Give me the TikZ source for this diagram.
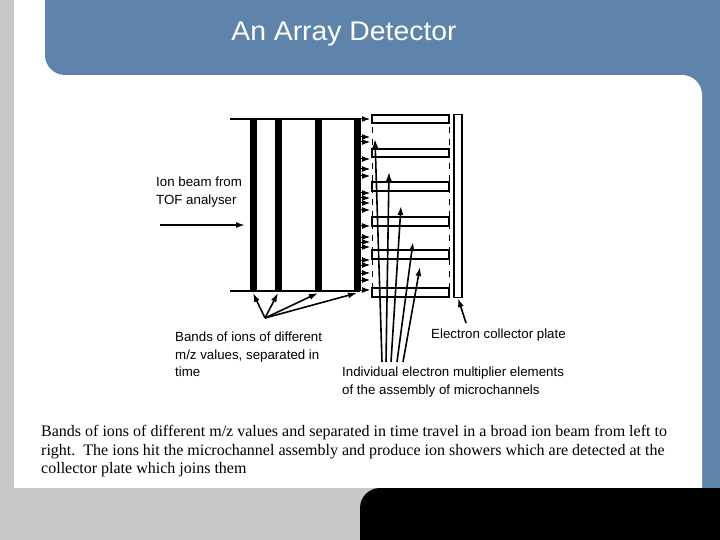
\documentclass[tikz,border=0pt]{standalone}
\usepackage{fontspec}
\setmainfont{Liberation Serif}
\setsansfont{Liberation Sans}
\usetikzlibrary{arrows.meta}
\definecolor{hdr}{HTML}{5F84AB}
\definecolor{gr}{HTML}{C8C9C7}
\begin{document}
\begin{tikzpicture}[x=1pt,y=-1pt,
  lbl/.style={font=\sffamily\fontsize{13.3}{17.5}\selectfont,align=left,anchor=north west,inner sep=0},
  arr/.style={-{Latex[length=9pt,width=6pt]},line width=1.6pt},
  sarr/.style={-{Latex[length=8pt,width=6pt]},line width=1pt},
  band/.style={fill=black},
  elem/.style={draw,line width=1.6pt,fill=white}]
\useasboundingbox (0,0) rectangle (720,540);
\fill[white] (0,0) rectangle (720,540);
\fill[gr] (0,0) rectangle (14,540);
\fill[hdr] (600,0) rectangle (720,540);
\fill[white,rounded corners=20pt] (560,75) rectangle (702,600);
\fill[white] (14,75) rectangle (600,540);
\fill[hdr,rounded corners=20pt] (45,-40) rectangle (780,75);
\fill[gr] (0,488) rectangle (380,540);
\fill[black,rounded corners=20pt] (360,488) rectangle (780,600);
\node[text=white,font=\sffamily\fontsize{27}{30}\selectfont,xscale=1.05] (title) at (344,34) {An Array Detector};
% beam lines
\coordinate (tl) at (230,119); \coordinate (tr) at (360,119);
\coordinate (bl) at (230,291); \coordinate (br) at (360,291);
\draw[line width=1.3pt] (tl) -- (tr);
\draw[line width=1.3pt] (bl) -- (br);
\foreach \x/\n in {253/b1,278/b2,318/b3,357/b4}{
  \fill[band] (\x-3.5,119) rectangle (\x+3.5,291);
  \coordinate (\n) at (\x,293);
}
% dashed guides
\draw[dash pattern=on 6pt off 6pt] (372,115) -- (372,297);
\draw[dash pattern=on 6pt off 6pt] (449,115) -- (449,297);
% elements
\foreach \ya/\yb/\n in {115/123/e1,149/157/e2,182/191/e3,217/226/e4,250/259/e5,288/297/e6}{
  \draw[elem] (372,\ya) rectangle (449,\yb);
}
\node[draw,line width=1.2pt,minimum width=8pt,minimum height=183pt,inner sep=0] (plate) at (458,206) {};
% small arrows
\foreach \y in {119,137,142,159,169,176,193,198,203,210,226,237,242,247,260,265,273,280,290}{
  \draw[sarr] (358,\y) -- (370,\y);
}
% ion beam
\node[lbl] (ion) at (156,177) {Ion beam from\\TOF analyser};
\coordinate (ia) at (160,225); \coordinate (ib) at (245,225);
\draw[arr] (ia) -- (ib);
% bands label
\node[lbl] (bands) at (175,332) {Bands of ions of different\\m/z values, separated in\\time};
\coordinate (bs) at (265,318);
\foreach \n in {b1,b2,b3,b4}{\draw[arr] (bs) -- (\n);}
% elements label
\node[lbl] (ind) at (342,367) {Individual electron multiplier elements\\of the assembly of microchannels};
\foreach \sx/\tx/\ty in {382/375/139,386/389/172,391/401/206,397/413/242,403/420/267}{
  \coordinate (s) at (\sx,362); \coordinate (t) at (\tx,\ty);
  \draw[arr] (s) -- (t);
}
\node[lbl] (ecp) at (431,329) {Electron collector plate};
\coordinate (cs) at (466,323);
\draw[arr] (cs) -- (plate.south);
% caption
\node[anchor=north west,align=left,inner sep=0,font=\fontsize{16}{18.6}\selectfont] (cap) at (41,425)
{Bands of ions of different m/z values and separated in time travel in a broad ion beam from left to\\
right.\ \ The ions hit the microchannel assembly and produce ion showers which are detected at the\\
collector plate which joins them};
\end{tikzpicture}
\end{document}
